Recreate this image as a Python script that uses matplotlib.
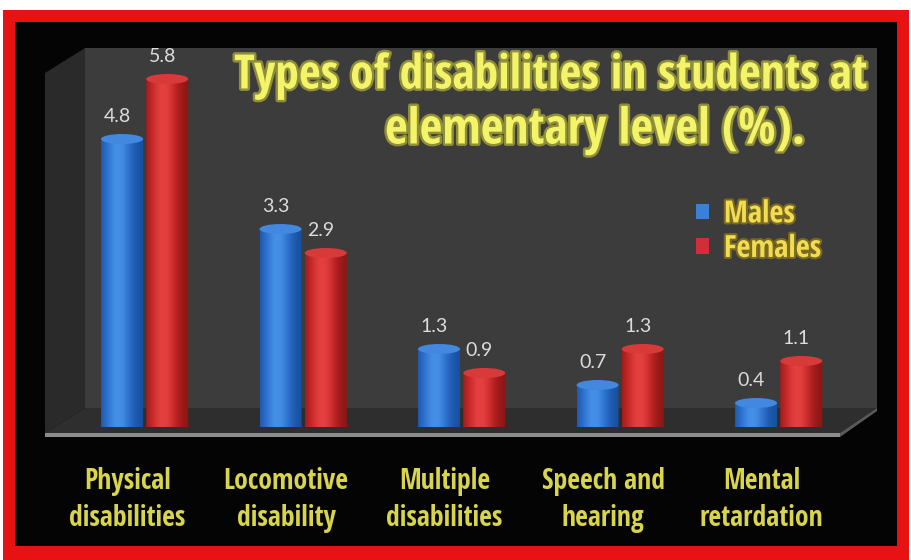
import numpy as np
import matplotlib
matplotlib.use("Agg")
import matplotlib.pyplot as plt
from matplotlib import font_manager
from matplotlib.font_manager import FontProperties
from matplotlib.patches import Rectangle, Polygon, Ellipse, PathPatch, Patch
from matplotlib.path import Path
from matplotlib.transforms import Affine2D
from matplotlib.colors import LinearSegmentedColormap
import matplotlib.patheffects as pe

# ---------------- data ----------------
categories = ["Physical\ndisabilities", "Locomotive\ndisability", "Multiple\ndisabilities",
              "Speech and\nhearing", "Mental\nretardation"]
males = [4.8, 3.3, 1.3, 0.7, 0.4]
females = [5.8, 2.9, 0.9, 1.3, 1.1]
series_names = ["Males", "Females"]
title_lines = ["Types of disabilities in students at", "elementary level (%)."]


def pick(names):
    for n in names:
        try:
            font_manager.findfont(FontProperties(family=n), fallback_to_default=False)
            return n
        except Exception:
            pass
    return "DejaVu Sans"


FONT = pick(["Liberation Sans Narrow", "Open Sans Condensed", "Roboto Condensed", "Lato"])
NUMFONT = pick(["Lato", "Open Sans", "DejaVu Sans"])

W, H = 912, 560
fig = plt.figure(figsize=(W / 100, H / 100), dpi=100)
fig.patch.set_facecolor("white")

# background / frame axes in pixel coordinates
bg = fig.add_axes([0, 0, 1, 1])
bg.set_xlim(0, W)
bg.set_ylim(H, 0)
bg.axis("off")

bg.add_patch(Rectangle((3, 10), 906, 550, facecolor="#e81212", edgecolor="none"))
bg.add_patch(Rectangle((15, 22), 882, 524, facecolor="#040404", edgecolor="none"))
# side wall
bg.add_patch(Polygon([(45, 73), (85, 48), (85, 408), (45, 433)], closed=True,
                     facecolor="#2a2a2a", edgecolor="none"))
# back wall
bg.add_patch(Rectangle((85, 48), 792, 360, facecolor="#3c3c3c", edgecolor="none"))
# floor
bg.add_patch(Polygon([(85, 408), (877, 408), (840, 433), (45, 433)], closed=True,
                     facecolor="#2e2e2e", edgecolor="none"))
bg.add_patch(Polygon([(45, 433), (840, 433), (840, 437), (45, 437)], closed=True,
                     facecolor="#8c8c8c", edgecolor="none"))
bg.add_patch(Polygon([(877, 408), (877, 411), (840, 437), (840, 433)], closed=True,
                     facecolor="#5a5a5a", edgecolor="none"))

# data axes
base_px, top_px, left_px, right_px = 427, 48, 85, 877
ppu = 60.0  # pixels per unit
ax = fig.add_axes([left_px / W, (H - base_px) / H, (right_px - left_px) / W, (base_px - top_px) / H])
ax.set_facecolor("none")
ax.set_xlim(-0.379, 4.618)
ax.set_ylim(0, (base_px - top_px) / ppu)
ax.axis("off")

bw = 0.265
eh = 10 / ppu
offs = [-0.145, 0.14]

cmaps = [
    LinearSegmentedColormap.from_list("b", ["#17509f", "#2c6fcc", "#4590e6"]),
    LinearSegmentedColormap.from_list("r", ["#8e1616", "#c42828", "#e54040"]),
]
top_cols = ["#4188de", "#d83a3a"]
t = np.linspace(0, 1, 64)
prof = np.exp(-((t - 0.4) / 0.33) ** 2)
grad = np.tile(prof, (2, 1))

x = np.arange(len(categories))
for si, vals in enumerate([males, females]):
    for xi, v in zip(x, vals):
        cx = xi + offs[si]
        rect_path = Path.unit_rectangle().transformed(
            Affine2D().scale(bw, v).translate(cx - bw / 2, 0))
        ell_path = Path.unit_circle().transformed(
            Affine2D().scale(bw / 2, eh / 2).translate(cx, 0))
        cpath = Path.make_compound_path(rect_path, ell_path)
        clip = PathPatch(cpath, transform=ax.transData, facecolor="none", edgecolor="none")
        ax.add_patch(clip)
        im = ax.imshow(grad, extent=[cx - bw / 2, cx + bw / 2, -eh / 2, v], aspect="auto",
                       cmap=cmaps[si], origin="lower", interpolation="bilinear", zorder=3)
        im.set_clip_path(clip)
        im.set_clip_on(True)
        ax.add_patch(Ellipse((cx, v), bw, eh, facecolor=top_cols[si], edgecolor="none",
                             zorder=4, clip_on=False))
        ax.text(cx - 0.03, v + 0.37, f"{v:.1f}", ha="center", va="center", color="#dcdcdc",
                fontsize=14, family=NUMFONT, zorder=5)

# category labels
for xi, lab in zip(x, categories):
    ax.text(xi - 0.11, -(500 - base_px) / ppu, lab, ha="center", va="center",
            color="#d8d44c", fontsize=20, fontweight="bold", family=FONT,
            linespacing=1.35, clip_on=False)

# title
fig.canvas.draw()
renderer = fig.canvas.get_renderer()
title_specs = [(title_lines[0], 551, 76, 633), (title_lines[1], 595, 131, 420)]
for txt, cx, cy, tw in title_specs:
    tt = bg.text(cx, cy, txt, ha="center", va="center", color="#f4f46a", fontsize=28,
                 fontweight="bold", family=FONT,
                 path_effects=[pe.withStroke(linewidth=3.5, foreground="#8f8f3a")])
    bb = tt.get_window_extent(renderer)
    tt.set_fontsize(28 * tw / bb.width)

# legend
handles = [Patch(facecolor="#3a80d8", edgecolor="none"), Patch(facecolor="#cf2e3a", edgecolor="none")]
leg = fig.legend(handles, series_names, loc="upper left", bbox_to_anchor=(675 / W, 1 - 178 / H),
                 frameon=False, handlelength=0.4, handleheight=0.4, handletextpad=0.5,
                 labelspacing=0.15, borderpad=0.2,
                 prop=FontProperties(family=FONT, weight="bold", size=22))
for tx in leg.get_texts():
    tx.set_color("#f2dc52")
    tx.set_path_effects([pe.withStroke(linewidth=3, foreground="#7a6a20")])

fig.savefig("out.png", dpi=100, facecolor="white")
